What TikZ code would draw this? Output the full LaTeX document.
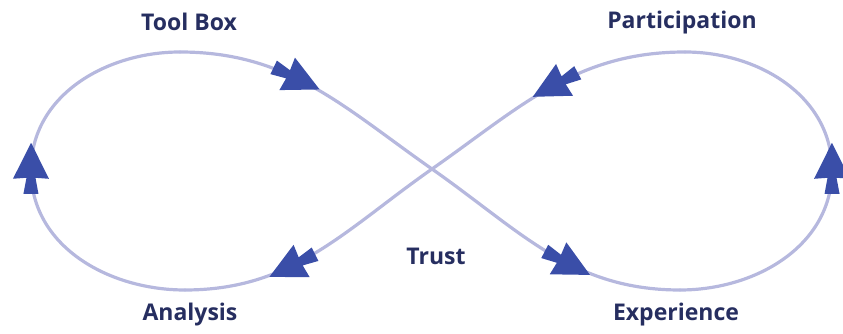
\documentclass[tikz,border=0pt]{standalone}
\usepackage{fontspec}
\setmainfont{Open Sans}
\usetikzlibrary{decorations.markings}
\definecolor{loopc}{RGB}{182,184,222}
\definecolor{arrc}{RGB}{58,78,168}
\definecolor{txtc}{RGB}{38,46,96}
\newcommand\dartshape{\fill[arrc] (27,0) -- (-9,18) -- (-8,4.5) -- (-24,7.5) -- (-24,-7.5) -- (-8,-4.5) -- (-9,-18) -- cycle;}
\tikzset{
  lbl/.style={font=\fontsize{23}{26}\selectfont\bfseries, text=txtc, anchor=base, inner sep=0pt},
  loopline/.style={draw=loopc, line width=3.2pt, line cap=round},
  arrowat/.style={postaction={decorate, decoration={markings, mark=at position #1 with {\dartshape}}}}
}
\begin{document}
\begin{tikzpicture}[x=1pt,y=1pt]
\useasboundingbox (0,0) rectangle (843,334);
\coordinate (L) at (31,164);
\coordinate (TL) at (180,282);
\coordinate (C) at (432,165);
\coordinate (BR) at (680,44);
\coordinate (R) at (832,164);
\coordinate (TR) at (685,282);
\coordinate (BL) at (185,44);
\draw[loopline] (L) to[out=90,in=180] (TL);
\draw[loopline] (TR) to[out=180,in=35] (C);
\draw[loopline] (C) to[out=-145,in=0] (BL);
\draw[loopline] (BL) to[out=180,in=-90] (L);
\draw[loopline] (TL) to[out=0,in=145] (C);
\draw[loopline] (C) to[out=-35,in=180] (BR);
\draw[loopline] (BR) to[out=0,in=-90] (R);
\draw[loopline] (R) to[out=90,in=0] (TR);
% arrowheads
\path[arrowat=0.42] (TL) to[out=0,in=145] (C);
\path[arrowat=0.58] (C) to[out=-35,in=180] (BR);
\path[arrowat=0.001] (R) to[out=90,in=0] (TR);
\path[arrowat=0.47] (TR) to[out=180,in=35] (C);
\path[arrowat=0.6] (C) to[out=-145,in=0] (BL);
\path[arrowat=0.001] (L) to[out=90,in=180] (TL);
% labels
\node[lbl] (toolbox) at (189,303) {Tool Box};
\node[lbl] (participation) at (682,305) {Participation};
\node[lbl] (trust) at (436,69) {Trust};
\node[lbl] (analysis) at (190,13) {Analysis};
\node[lbl] (experience) at (676,13) {Experience};
\end{tikzpicture}
\end{document}
